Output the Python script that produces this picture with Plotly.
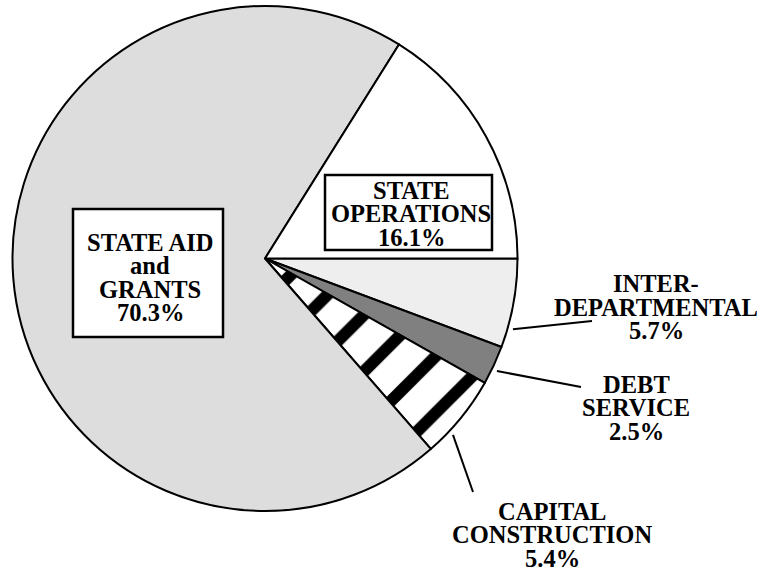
import math
import plotly.graph_objects as go

# slices in clockwise order, starting at 3 o'clock
labels = ['INTER-DEPARTMENTAL', 'DEBT SERVICE', 'CAPITAL CONSTRUCTION',
          'STATE AID and GRANTS', 'STATE OPERATIONS']
shares = [5.7, 2.5, 5.4, 70.3, 16.1]
label_lines = [['INTER-', 'DEPARTMENTAL'], ['DEBT', 'SERVICE'],
               ['CAPITAL', 'CONSTRUCTION'], ['STATE AID', 'and', 'GRANTS'],
               ['STATE', 'OPERATIONS']]

# layout, in pixels of the 769x572 page
W, H = 769, 572
CX, CY, R = 265, 258.5, 252.5
START = 90
FONT = 'Liberation Serif'
FS = 24.5
PITCH = 23.5

fills = ['#eeeeee', '#808080', 'white', '#dddddd', 'white']
shapes_pat = ['', '', '/', '', '']

# label placement: text centre x, first baseline y, box, leader (slice fraction, end point)
placement = [
    dict(x=656, base=292, box=None, lead=(0.775, 592, 321)),
    dict(x=636, base=392.5, box=None, lead=(0.595, 581, 387)),
    dict(x=552, base=519.5, box=None, lead=(0.703, 473, 492)),
    dict(x=150, base=250.5, box=(73, 209, 223, 337), lead=None),
    dict(x=411, base=198.5, box=(325, 175, 492, 250), lead=None),
]


def px(x):
    return x / W


def py(y):
    return 1 - y / H


fig = go.Figure(go.Pie(
    labels=labels, values=shares, sort=False, direction='clockwise', rotation=START,
    textinfo='none', showlegend=False, hoverinfo='label+percent',
    marker=dict(colors=fills, line=dict(color='black', width=2),
                pattern=dict(shape=shapes_pat, fgcolor='black', bgcolor='white',
                             size=40, solidity=0.3)),
    domain=dict(x=[px(CX - R), px(CX + R)], y=[py(CY + R), py(CY - R)]),
))

total = sum(shares)
acc = 0
shapes = []
annotations = []
for lab, val, lines, p in zip(labels, shares, label_lines, placement):
    a0 = START + 360 * acc / total
    a1 = START + 360 * (acc + val) / total
    acc += val
    if p['box']:
        x0, y0, x1, y1 = p['box']
        shapes.append(dict(type='rect', xref='paper', yref='paper',
                           x0=px(x0), x1=px(x1), y0=py(y1), y1=py(y0),
                           line=dict(color='black', width=2.5), fillcolor='white'))
    if p['lead']:
        frac, ex, ey = p['lead']
        ang = math.radians(a0 + frac * (a1 - a0))
        rr = R * 1.021
        sx = CX + rr * math.sin(ang)
        sy = CY - rr * math.cos(ang)
        shapes.append(dict(type='line', xref='paper', yref='paper',
                           x0=px(sx), y0=py(sy), x1=px(ex), y1=py(ey),
                           line=dict(color='black', width=2)))
    rows = lines + [f'{val}%']
    for i, t in enumerate(rows):
        base = p['base'] + i * PITCH
        annotations.append(dict(
            text=f'<b>{t}</b>', xref='paper', yref='paper', showarrow=False,
            x=px(p['x']), y=py(base - 0.34 * FS), xanchor='center', yanchor='middle',
            font=dict(family=FONT, size=FS, color='black')))

fig.update_layout(
    width=W, height=H, margin=dict(l=0, r=0, t=0, b=0),
    paper_bgcolor='white', plot_bgcolor='white',
    shapes=shapes, annotations=annotations,
)

# drop the browser's default body margin so the figure sits at the page corner
fig.write_html('out.html', config={'displayModeBar': False},
               post_script="document.body.style.margin='0';")
